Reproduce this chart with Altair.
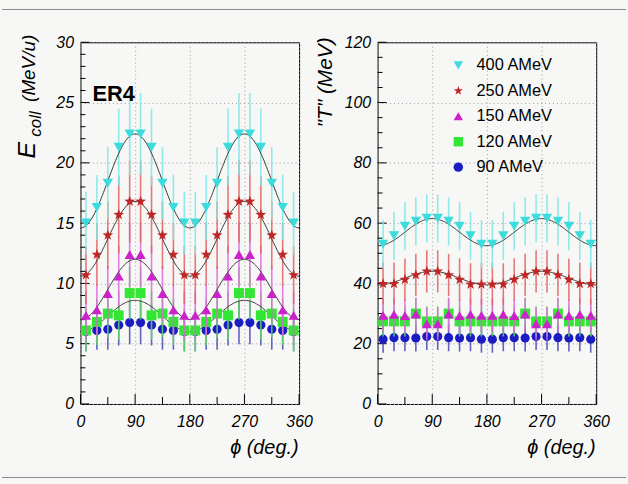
import altair as alt
import pandas as pd

# Azimuthal angle bins (deg.)
PHI = [9, 27, 45, 63, 81, 99, 117, 135, 153, 171,
       189, 207, 225, 243, 261, 279, 297, 315, 333, 351]

BEAMS = ["400 AMeV", "250 AMeV", "150 AMeV", "120 AMeV", "90 AMeV"]

# E_coll (MeV/u) per beam energy
ecoll_400 = [15.0, 16.3, 18.3, 21.3, 22.4, 22.4, 21.3, 18.3, 16.3, 15.0,
             15.0, 16.3, 18.3, 21.3, 22.4, 22.4, 21.3, 18.3, 16.3, 15.0]
ecoll_250 = [10.7, 12.4, 14.0, 15.7, 16.8, 16.8, 15.7, 14.0, 12.4, 10.7,
             10.7, 12.4, 14.0, 15.7, 16.8, 16.8, 15.7, 14.0, 12.4, 10.7]
ecoll_150 = [7.35, 7.8, 9.15, 10.6, 12.4, 12.4, 10.6, 9.15, 7.8, 7.35,
             7.35, 7.8, 9.15, 10.6, 12.4, 12.4, 10.6, 9.15, 7.8, 7.35]
ecoll_120 = [6.1, 6.8, 7.5, 7.35, 9.2, 9.2, 7.35, 7.5, 6.8, 6.1,
             6.1, 6.8, 7.5, 7.35, 9.2, 9.2, 7.35, 7.5, 6.8, 6.1]
ecoll_90 = [6.0, 6.1, 6.2, 6.55, 6.75, 6.75, 6.55, 6.2, 6.1, 6.0,
            6.0, 6.1, 6.2, 6.55, 6.75, 6.75, 6.55, 6.2, 6.1, 6.0]

ecoll_err_400 = [2.6, 2.7, 3.0, 3.2, 3.4, 3.4, 3.2, 3.0, 2.7, 2.6,
                 2.6, 2.7, 3.0, 3.2, 3.4, 3.4, 3.2, 3.0, 2.7, 2.6]
ecoll_err_250 = [2.4, 2.6, 2.8, 3.2, 3.4, 3.4, 3.2, 2.8, 2.6, 2.4,
                 2.4, 2.6, 2.8, 3.2, 3.4, 3.4, 3.2, 2.8, 2.6, 2.4]
ecoll_err_150 = [2.0, 2.1, 2.3, 2.5, 2.7, 2.7, 2.5, 2.3, 2.1, 2.0,
                 2.0, 2.1, 2.3, 2.5, 2.7, 2.7, 2.5, 2.3, 2.1, 2.0]
ecoll_err_120 = [1.8, 1.9, 2.0, 2.0, 2.2, 2.2, 2.0, 2.0, 1.9, 1.8,
                 1.8, 1.9, 2.0, 2.0, 2.2, 2.2, 2.0, 2.0, 1.9, 1.8]
ecoll_err_90 = [1.6, 1.6, 1.7, 1.7, 1.8, 1.8, 1.7, 1.7, 1.6, 1.6,
                1.6, 1.6, 1.7, 1.7, 1.8, 1.8, 1.7, 1.7, 1.6, 1.6]

# "T" (MeV) per beam energy
t_400 = [53.0, 55.8, 59.0, 60.6, 61.6, 61.6, 60.6, 59.0, 55.8, 53.0,
         53.0, 55.8, 59.0, 60.6, 61.6, 61.6, 60.6, 59.0, 55.8, 53.0]
t_250 = [39.9, 39.9, 41.3, 42.8, 44.0, 44.0, 42.8, 41.3, 39.7, 39.7,
         39.7, 39.7, 41.3, 42.8, 44.0, 44.0, 42.8, 41.3, 39.9, 39.9]
t_150 = [29.4, 29.7, 29.3, 29.8, 26.6, 26.6, 29.8, 29.3, 29.7, 29.4,
         29.4, 29.7, 29.3, 29.8, 26.6, 26.6, 29.8, 29.3, 29.7, 29.4]
t_120 = [27.4, 27.4, 27.4, 30.0, 27.4, 27.4, 30.0, 27.4, 27.4, 27.4,
         27.4, 27.4, 27.4, 30.0, 27.4, 27.4, 30.0, 27.4, 27.4, 27.4]
t_90 = [21.5, 22.0, 22.0, 21.9, 22.4, 22.4, 22.0, 21.9, 22.0, 21.5,
        21.5, 22.0, 22.0, 21.9, 22.4, 22.4, 22.0, 21.9, 22.0, 21.5]

t_err_400 = [8.0] * 20
t_err_250 = [7.0] * 20
t_err_150 = [5.5] * 20
t_err_120 = [5.0] * 20
t_err_90 = [4.5] * 20

# Fit parameters A + B*cos(2*phi)
ecoll_fit = {"400 AMeV": (18.5, -3.9), "250 AMeV": (13.7, -3.1),
             "150 AMeV": (9.5, -2.5), "120 AMeV": (7.3, -1.3)}
t_fit = {"400 AMeV": (57.0, -4.5), "250 AMeV": (41.75, -2.25)}

# Axis tick positions
x_major = [0, 90, 180, 270, 360]
x_minor = [45, 135, 225, 315]
ecoll_major = [0, 5, 10, 15, 20, 25, 30]
ecoll_minor = [v for v in range(1, 30) if v % 5]
t_major = [0, 20, 40, 60, 80, 100, 120]
t_minor = [v for v in range(5, 120, 5) if v % 20]

STAR = ("M0,-1L0.235,-0.324L0.951,-0.309L0.38,0.124L0.588,0.809L0,0.4"
        "L-0.588,0.809L-0.38,0.124L-0.951,-0.309L-0.235,-0.324Z")
SHAPES = ["triangle-down", STAR, "triangle-up", "square", "circle"]
COLORS = ["#3cdcdc", "#c02626", "#cc22cc", "#33e633", "#1c1cc4"]
BAR_COLORS = {"400 AMeV": "#7de6e8", "250 AMeV": "#e06262", "150 AMeV": "#dd66dd",
              "120 AMeV": "#5fdc5f", "90 AMeV": "#4646b4"}
SIZES = {"400 AMeV": 110, "250 AMeV": 130, "150 AMeV": 105,
         "120 AMeV": 100, "90 AMeV": 85}

FONT = "Liberation Sans"
W, H = 220, 364

XS = alt.Scale(domain=[0, 360], nice=False, zero=False)
CS = alt.Scale(domain=BEAMS, range=COLORS)
SS = alt.Scale(domain=BEAMS, range=SHAPES)

X_AXIS = alt.Axis(values=x_major, ticks=False, domain=False, grid=True,
                  gridDash=[1, 3], gridColor="#9a9a9a", gridWidth=1,
                  labelFont=FONT, labelFontStyle="italic", labelFontSize=16,
                  labelColor="black", labelPadding=10, labelFlush=False,
                  labelOverlap=False, title="ϕ (deg.)", titleFont=FONT,
                  titleFontSize=20, titleFontStyle="italic",
                  titleFontWeight="normal", titleColor="black",
                  titleX=W - 1, titleY=50, titleAlign="right",
                  titleBaseline="alphabetic")


def y_axis(values):
    return alt.Axis(values=values, ticks=False, domain=False, grid=True,
                    gridDash=[1, 3], gridColor="#9a9a9a", gridWidth=1,
                    labelFont=FONT, labelFontStyle="italic", labelFontSize=16,
                    labelColor="black", labelPadding=7, labelOverlap=False,
                    title=None)


def make_frame(series, errors):
    rows = []
    for beam in BEAMS:
        for p, v, e in zip(PHI, series[beam], errors[beam]):
            rows.append({"beam": beam, "phi": p, "val": v, "lo": v - e, "hi": v + e})
    return pd.DataFrame(rows)


def panel(df, ys, yax, ymajor, yminor, fits, legend):
    X = lambda f: alt.X(f, scale=XS, axis=X_AXIS)
    Y = lambda f: alt.Y(f, scale=ys, axis=yax)
    layers = []
    # axes and grid
    layers.append(alt.Chart(df).mark_point(opacity=0).encode(x=X("phi:Q"), y=Y("val:Q")))
    # inward ticks
    for vals, length in [(ymajor, 9), (yminor, 5)]:
        layers.append(alt.Chart(pd.DataFrame({"v": vals})).mark_rule(
            color="black", strokeWidth=1).encode(
            y=Y("v:Q"), x=alt.value(0), x2=alt.value(length)))
    for vals, length in [(x_major, 10), (x_minor, 7)]:
        layers.append(alt.Chart(pd.DataFrame({"v": vals})).mark_rule(
            color="black", strokeWidth=1).encode(
            x=X("v:Q"), y=alt.value(H), y2=alt.value(H - length)))
    # data series, lowest energy drawn first
    for beam in reversed(BEAMS):
        sub = df[df["beam"] == beam]
        layers.append(alt.Chart(sub).mark_rule(
            color=BAR_COLORS[beam], strokeWidth=1.6, opacity=0.85).encode(
            x=X("phi:Q"), y=Y("lo:Q"), y2="hi:Q"))
        if beam in fits:
            a, b = fits[beam]
            layers.append(alt.Chart(alt.sequence(0, 361, 2, as_="phi")).transform_calculate(
                v=f"{a} + ({b})*cos(2*datum.phi*PI/180)").mark_line(
                color="#3a3a3a", strokeWidth=1).encode(x=X("phi:Q"), y=Y("v:Q")))
        layers.append(alt.Chart(sub).mark_point(
            filled=True, opacity=1, size=SIZES[beam]).encode(
            x=X("phi:Q"), y=Y("val:Q"),
            color=alt.Color("beam:N", scale=CS, legend=legend),
            shape=alt.Shape("beam:N", scale=SS, legend=legend)))
    return layers


ecoll_df = make_frame(
    {"400 AMeV": ecoll_400, "250 AMeV": ecoll_250, "150 AMeV": ecoll_150,
     "120 AMeV": ecoll_120, "90 AMeV": ecoll_90},
    {"400 AMeV": ecoll_err_400, "250 AMeV": ecoll_err_250, "150 AMeV": ecoll_err_150,
     "120 AMeV": ecoll_err_120, "90 AMeV": ecoll_err_90})
t_df = make_frame(
    {"400 AMeV": t_400, "250 AMeV": t_250, "150 AMeV": t_150,
     "120 AMeV": t_120, "90 AMeV": t_90},
    {"400 AMeV": t_err_400, "250 AMeV": t_err_250, "150 AMeV": t_err_150,
     "120 AMeV": t_err_120, "90 AMeV": t_err_90})

ys_left = alt.Scale(domain=[0, 30], nice=False, zero=True)
ys_right = alt.Scale(domain=[0, 120], nice=False, zero=True)

legend = alt.Legend(orient="none", legendX=73, legendY=15, title=None,
                    labelFont=FONT, labelFontSize=16.5, labelColor="black",
                    symbolSize=90, rowPadding=8.6, padding=0, labelOffset=10,
                    symbolStrokeWidth=0, symbolOpacity=1)


def label_layer(text, **kw):
    return alt.Chart(pd.DataFrame({"t": [text]})).mark_text(**kw).encode(
        text="t:N")


def page_rule(y, color="#8c8c8c", opacity=1.0):
    return alt.Chart(pd.DataFrame({"t": [0]})).mark_rule(
        color=color, strokeWidth=1.2, opacity=opacity).encode(
        x=alt.value(-79), x2=alt.value(549), y=alt.value(y))


left_layers = panel(ecoll_df, ys_left, y_axis(ecoll_major), ecoll_major, ecoll_minor,
                    ecoll_fit, None)
left_layers += [
    label_layer("ER4", font=FONT, fontSize=22, fontWeight="bold", color="black",
                align="left", baseline="alphabetic", x=12, y=59),
    label_layer("E", font=FONT, fontSize=25, fontStyle="italic", color="black",
                angle=270, align="left", baseline="alphabetic", x=-46, y=117),
    label_layer("coll", font=FONT, fontSize=17, fontStyle="italic", color="black",
                angle=270, align="left", baseline="alphabetic", x=-40, y=95),
    label_layer("(MeV/u)", font=FONT, fontSize=19, fontStyle="italic", color="black",
                angle=270, align="left", baseline="alphabetic", x=-46, y=60),
    # page frame lines, plus transparent ones fixing the page extent
    page_rule(-33),
    page_rule(438),
    page_rule(-40, opacity=0),
    page_rule(444, opacity=0),
]

right_layers = panel(t_df, ys_right, y_axis(t_major), t_major, t_minor, t_fit, legend)
right_layers += [
    label_layer('"T" (MeV)', font=FONT, fontSize=21, fontStyle="italic", color="black",
                angle=270, align="right", baseline="alphabetic", x=-46, y=-5),
]

left = alt.layer(*left_layers).properties(width=W, height=H)
right = alt.layer(*right_layers).properties(width=W, height=H)

chart = alt.hconcat(left, right, spacing=79, bounds="flush").resolve_legend(
    color="independent", shape="independent").resolve_scale(
    color="shared", shape="shared").properties(
    padding=0, background="#f7f8f6").configure_view(
    stroke="black", strokeWidth=1, fill="white")

chart.save("out.html", embed_options={"renderer": "svg", "actions": False})
